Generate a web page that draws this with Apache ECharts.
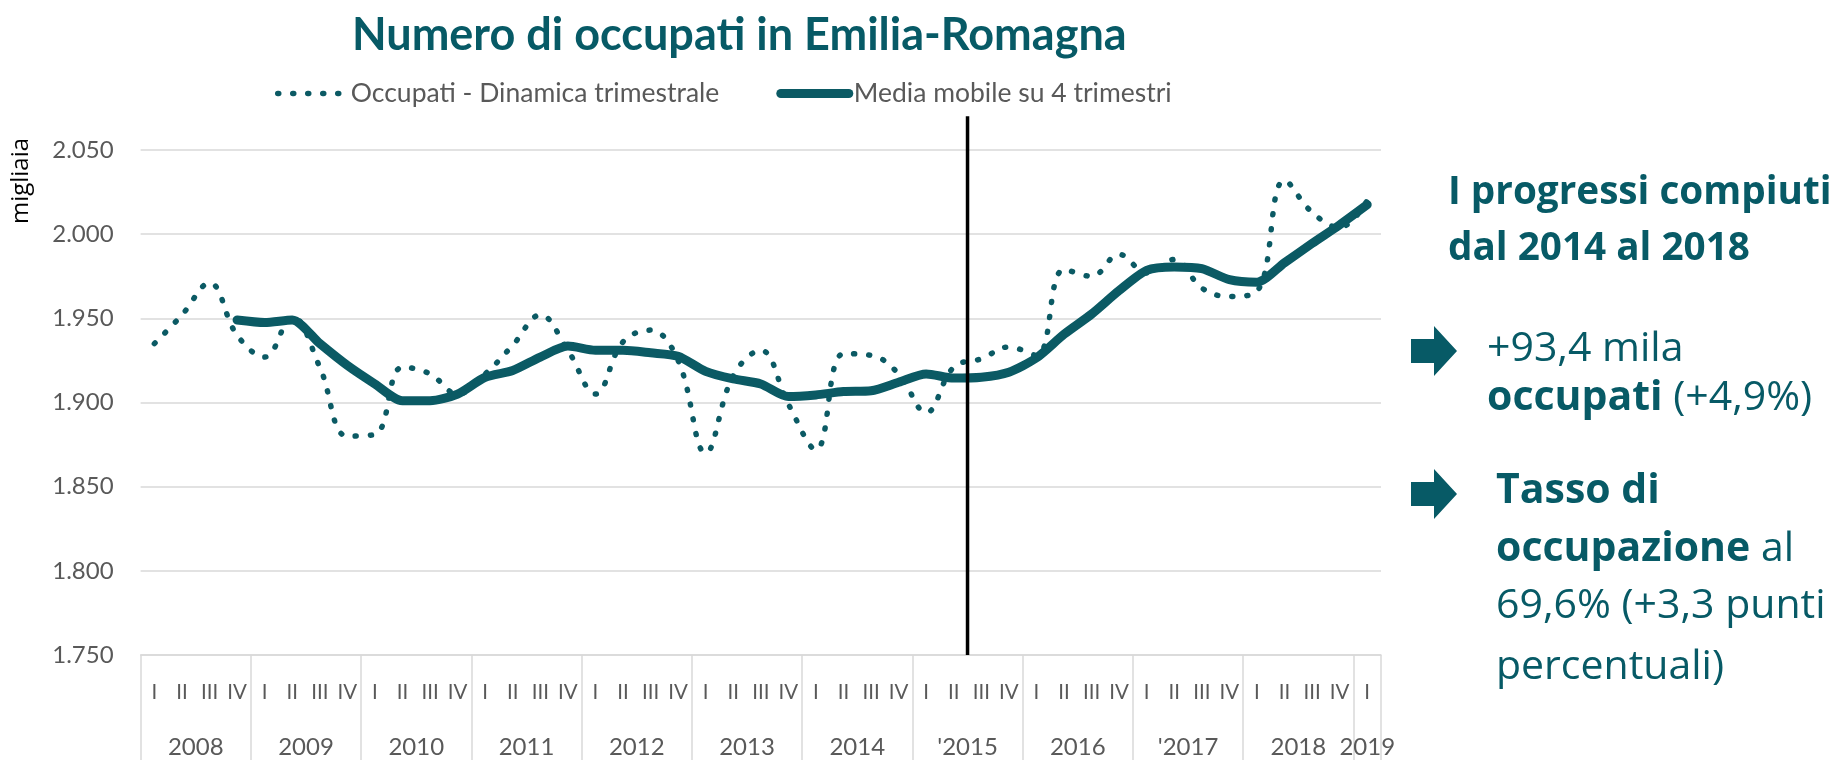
<!DOCTYPE html>
<html><head><meta charset="utf-8">
<script src="https://cdn.jsdelivr.net/npm/echarts@6/dist/echarts.min.js"></script>
<style>html,body{margin:0;padding:0;background:#fff}#c{width:1843px;height:760px}</style>
</head><body><div id="c"></div>
<script>
// ---- DATA ----
const quarterLabels = ['I','II','III','IV','I','II','III','IV','I','II','III','IV','I','II','III','IV',
  'I','II','III','IV','I','II','III','IV','I','II','III','IV','I','II','III','IV',
  'I','II','III','IV','I','II','III','IV','I','II','III','IV','I'];
const yearLabels = ['2008','2009','2010','2011','2012','2013','2014',"'2015",'2016',"'2017",'2018','2019'];
const quartersPerYear = [4,4,4,4,4,4,4,4,4,4,4,1];
const occupati = [1935,1952,1971,1940, 1927,1951,1921,1880, 1881,1921,1917,1905, 1917,1934,1952,1931,
  1905,1936,1943,1925, 1870,1916,1931,1899, 1872,1929,1928,1917, 1894,1921,1926,1933,
  1928,1979,1975,1988, 1977,1985,1968,1963, 1966,2032,2013,2004, 2020];
const mediaMobile = [null,null,null,1949, 1947.5,1949,1935,1922, 1911,1901,1901,1905, 1915,1919,1927,1933.5,
  1931,1931,1929.5,1927.5, 1918.5,1914,1911,1903.5, 1904.5,1906.5,1907,1912, 1917,1914.5,1915,1918,
  1926.5,1940.5,1952.5,1966.5, 1978.5,1980.5,1979.5,1973, 1971.5,1983,1994.5,2005.5, 2017.5];
const yAxisRange = [1750, 2050];
const yAxisStep = [50];
const markerQuarterBoundary = [30];      // between 2015 II and 2015 III
const markerValueRange = [1750, 2070];
const seriesNames = ['Occupati - Dinamica trimestrale', 'Media mobile su 4 trimestri'];

// ---- derived positions for year row ----
const yearStarts = [], yearCenters = [];
let acc = 0;
quartersPerYear.forEach(n => { yearStarts.push(acc); yearCenters.push(acc + n / 2); acc += n; });
yearStarts.push(acc);
const yearLabelMap = {};
yearCenters.forEach((c, i) => { yearLabelMap[c.toFixed(1)] = yearLabels[i]; });

const TEAL = '#0b5a64';
const TEXT_TEAL = '#075a66';
const GRAY = '#595959';
const GRID = '#d9d9d9';
const nQ = quarterLabels.length;

function txt(x, y, text, size, bold) {
  return {type: 'text', x: x, y: y,
    style: {text: text, fontFamily: 'Open Sans', fontSize: size, fontWeight: bold ? 'bold' : 'normal',
      fill: TEXT_TEAL, verticalAlign: 'middle',
      rich: {b: {fontFamily: 'Open Sans', fontWeight: 'bold', fontSize: size, fill: TEXT_TEAL}}}};
}
function arrow(cy) {
  return {type: 'polygon', style: {fill: TEXT_TEAL},
    shape: {points: [[1411, cy - 12], [1434, cy - 12], [1434, cy - 25], [1457, cy], [1434, cy + 25], [1434, cy + 12], [1411, cy + 12]]}};
}

const chart = echarts.init(document.getElementById('c'), null, {renderer: 'canvas'});
const option = {
  backgroundColor: '#fff',
  animation: false,
  title: {
    text: 'Numero di occupati in Emilia-Romagna',
    left: 347, top: 8,
    textStyle: {fontFamily: 'Lato', fontWeight: 'bold', fontSize: 45, color: TEXT_TEAL}
  },
  legend: {
    data: seriesNames,
    left: 270, top: 75,
    itemWidth: 68, itemHeight: 12, itemGap: 57,
    itemStyle: {opacity: 0},
    lineStyle: {width: 'inherit'},
    textStyle: {fontFamily: 'Lato', fontSize: 26.5, color: GRAY, padding: 0}
  },
  grid: {left: 140.6, right: 462, top: 150, bottom: 105, containLabel: false},
  xAxis: [
    {
      type: 'category', data: quarterLabels, boundaryGap: true,
      axisLine: {show: true, lineStyle: {color: GRID, width: 1.5}},
      axisTick: {show: false},
      axisLabel: {interval: 0, margin: 27, fontFamily: 'Lato', fontSize: 20.5, color: GRAY},
      splitLine: {show: false}
    },
    {type: 'value', min: 0, max: nQ, show: false},
    {
      type: 'value', min: 0, max: nQ, position: 'bottom', offset: 0,
      axisLine: {show: false},
      axisTick: {show: true, customValues: yearStarts, length: 110, inside: false, lineStyle: {color: GRID, width: 1.5}},
      axisLabel: {show: true, customValues: yearCenters, margin: 80, fontFamily: 'Lato', fontSize: 24, color: GRAY,
        formatter: v => yearLabelMap[Number(v).toFixed(1)] || ''},
      splitLine: {show: false}
    }
  ],
  yAxis: {
    type: 'value', min: yAxisRange[0], max: yAxisRange[1], interval: yAxisStep[0],
    axisLine: {show: false}, axisTick: {show: false},
    splitLine: {lineStyle: {color: GRID, width: 1.5}},
    axisLabel: {margin: 27, fontFamily: 'Lato', fontSize: 24, color: GRAY,
      formatter: v => String(v).replace(/\B(?=(\d{3})+(?!\d))/g, '.')}
  },
  series: [
    {
      name: seriesNames[0], type: 'line', data: occupati, smooth: 0.4,
      symbol: 'none', showSymbol: false, z: 3,
      lineStyle: {color: TEAL, width: 5.5, type: [1, 14], cap: 'round', join: 'round'},
      itemStyle: {color: TEAL}
    },
    {
      name: seriesNames[1], type: 'line', data: mediaMobile, smooth: 0.25,
      symbol: 'none', showSymbol: false, z: 2, connectNulls: false,
      lineStyle: {color: TEAL, width: 9, cap: 'round', join: 'round'},
      itemStyle: {color: TEAL}
    },
    {
      name: 'marker', type: 'line', xAxisIndex: 1, clip: false, symbol: 'none', silent: true,
      data: [[markerQuarterBoundary[0], markerValueRange[0]], [markerQuarterBoundary[0], markerValueRange[1]]],
      lineStyle: {color: '#000', width: 3.5}, z: 4
    }
  ],
  graphic: [
    {type: 'text', x: 21, y: 181, rotation: Math.PI / 2,
      style: {text: 'migliaia', fontFamily: 'Open Sans', fontSize: 24, fill: '#000', align: 'center', verticalAlign: 'middle'}},
    txt(1448, 193, 'I progressi compiuti', 38.7, true),
    txt(1448, 249, 'dal 2014 al 2018', 38.7, true),
    arrow(351),
    arrow(494),
    txt(1487, 349, '+93,4 mila', 41, false),
    txt(1487, 398, '{b|occupati} (+4,9%)', 41, false),
    txt(1496, 491, '{b|Tasso di}', 41, false),
    txt(1496, 549, '{b|occupazione} al', 41, false),
    txt(1496, 606, '69,6% (+3,3 punti', 41, false),
    txt(1496, 667, 'percentuali)', 41, false)
  ]
};
chart.setOption(option);
</script></body></html>
